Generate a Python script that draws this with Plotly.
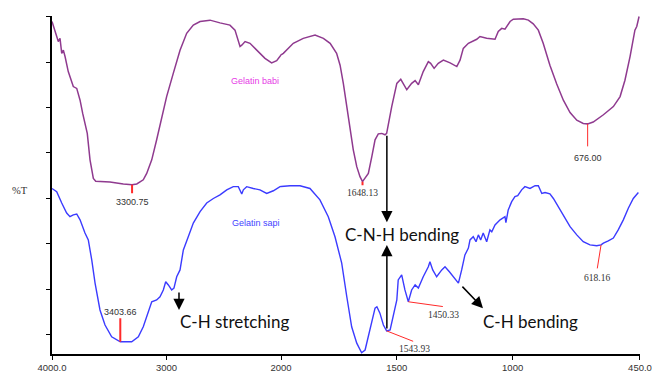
import plotly.graph_objects as go

# ---------------- data ----------------
babi_wn = [4000, 3974, 3945, 3930, 3915, 3901, 3886, 3858, 3814, 3784,
           3755, 3732, 3712, 3692, 3668, 3639, 3618, 3494, 3377, 3300.75,
           3260, 3203, 3173, 3129, 3086, 3042, 2999, 2941, 2882, 2824,
           2766, 2707, 2620, 2533, 2446, 2402, 2373, 2358, 2343, 2314,
           2271, 2198, 2140, 2082, 2038, 1990, 1947, 1904, 1853, 1817,
           1788, 1760, 1745, 1731, 1716, 1702, 1688, 1673, 1659, 1648.13,
           1637, 1623, 1608, 1594, 1580, 1565, 1551, 1544, 1522, 1500,
           1483, 1472, 1457, 1436, 1421, 1407, 1386, 1364, 1354, 1339,
           1321, 1299, 1270, 1241, 1227, 1213, 1191, 1155, 1141, 1112,
           1076, 1062, 1047, 1033, 1011, 997, 954, 932, 911, 889,
           868, 839, 810, 781, 752, 723, 695, 676, 652, 608,
           565, 536, 515, 493, 479, 472, 464, 460, 454]
babi_t = [68.9, 67.0, 64.5, 65.2, 61.9, 62.6, 61.2, 57.9, 54.6, 54.2,
          51.6, 48.7, 46.5, 44.3, 38.5, 34.4, 33.8, 33.6, 33.2, 33.0,
          33.2, 34.1, 35.5, 38.5, 42.9, 48.0, 52.4, 57.5, 62.6, 66.3,
          68.1, 68.9, 69.2, 68.6, 68.1, 67.0, 64.5, 63.4, 63.7, 64.5,
          64.1, 62.3, 60.8, 59.8, 60.3, 61.9, 64.1, 65.2, 65.9, 65.2,
          64.1, 61.9, 59.3, 55.3, 50.2, 45.1, 40.7, 37.0, 34.8, 33.7,
          34.4, 35.5, 39.2, 42.9, 44.2, 44.3, 44.0, 44.3, 50.2, 55.3,
          56.2, 55.3, 53.9, 55.3, 55.9, 55.0, 57.9, 60.1, 59.7, 58.6,
          59.7, 60.4, 59.8, 59.0, 60.4, 63.0, 64.1, 65.0, 65.6, 65.2,
          65.0, 66.7, 67.4, 67.2, 68.9, 69.4, 69.5, 69.2, 68.4, 67.0,
          64.1, 59.3, 55.2, 51.6, 48.9, 47.2, 46.5, 46.4, 46.8, 48.4,
          50.2, 52.4, 56.0, 61.2, 64.8, 67.0, 67.8, 68.9, 70.0]

sapi_wn = [4000, 3959, 3915, 3872, 3843, 3814, 3784, 3755, 3712, 3683,
           3653, 3624, 3581, 3537, 3479, 3403.66, 3304, 3246, 3203, 3159,
           3129, 3086, 3057, 3028, 3007, 2984, 2955, 2935, 2911, 2882,
           2853, 2810, 2766, 2707, 2649, 2591, 2533, 2474, 2417, 2373,
           2343, 2329, 2300, 2242, 2184, 2125, 2067, 2009, 1961, 1918,
           1875, 1832, 1796, 1767, 1738, 1716, 1695, 1673, 1652, 1637,
           1623, 1608, 1594, 1586, 1573, 1558, 1543.93, 1529, 1515, 1500,
           1494, 1479, 1465, 1450.33, 1436, 1421, 1407, 1386, 1364, 1357,
           1345, 1328, 1306, 1292, 1273, 1249, 1234, 1220, 1206, 1191,
           1184, 1170, 1158, 1148, 1138, 1127, 1112, 1098, 1090, 1076,
           1054, 1033, 1029, 1019, 1004, 990, 978, 961, 947, 925,
           903, 889, 874, 860, 839, 824, 803, 781, 752, 723,
           695, 666, 637, 618.16, 608, 587, 565, 544, 522, 500, 479, 457]
sapi_t = [32.2, 31.5, 29.0, 26.8, 26.0, 26.4, 26.6, 25.3, 22.4, 20.9,
          16.5, 11.4, 5.5, 2.2, -0.4, -1.5, -1.5, -0.4, 1.8, 4.8,
          7.3, 7.7, 8.4, 9.9, 11.7, 11.0, 9.9, 10.3, 12.8, 14.3,
          18.7, 21.6, 24.6, 27.1, 29.0, 30.0, 30.8, 31.9, 32.6, 32.6,
          31.0, 31.9, 32.6, 32.2, 31.9, 31.1, 31.7, 32.6, 32.8, 32.8,
          32.2, 29.7, 26.0, 21.6, 15.8, 8.4, 1.8, -1.8, -3.9, -3.3,
          -0.4, 3.3, 5.9, 6.2, 4.8, 2.2, 0.9, 1.1, 4.4, 7.7,
          12.1, 13.2, 9.9, 7.3, 9.9, 11.0, 10.3, 12.8, 15.0, 16.1,
          14.3, 12.8, 14.3, 15.0, 13.9, 12.5, 11.4, 14.3, 17.6, 19.1,
          20.9, 21.6, 20.5, 22.0, 20.9, 22.4, 20.5, 23.1, 22.7, 24.2,
          25.3, 26.0, 24.7, 27.5, 29.3, 30.4, 30.6, 31.9, 32.6, 32.2,
          32.8, 32.8, 31.1, 31.3, 31.0, 30.0, 28.2, 26.0, 23.8, 22.0,
          20.5, 19.8, 19.6, 19.8, 20.2, 20.7, 21.3, 23.1, 25.3, 27.9, 30.0, 31.3]

babi_peaks_wn = [3300.75, 1648.13, 676.00]
babi_peaks_t = [33.0, 33.7, 46.4]
babi_peak_labels = ["3300.75", "1648.13", "676.00"]
sapi_peaks_wn = [3403.66, 1543.93, 1450.33, 618.16]
sapi_peaks_t = [-1.5, 0.9, 7.3, 19.8]
sapi_peak_labels = ["3403.66", "1543.93", "1450.33", "618.16"]

xticks_hi = [4000, 3000]
xticklabels_hi = ["4000.0", "3000"]
xticks_lo = [2000, 1500, 1000, 450]
xticklabels_lo = ["2000", "1500", "1000", "450.0"]
yticks = [0, 10, 20, 30, 40, 50, 60, 70]

# ---------------- styling ----------------
PURPLE = "#8f3a8f"
BLUE = "#3b3bff"
RED = "#ff2a2a"
SPLIT = 0.3895

def xr(wn):
    return "x" if wn > 2000 else "x2"

fig = go.Figure()
for xa in ["x", "x2"]:
    fig.add_trace(go.Scatter(x=babi_wn, y=babi_t, mode="lines", xaxis=xa, yaxis="y",
                             line=dict(color=PURPLE, width=1.5), showlegend=False, hoverinfo="skip"))
    fig.add_trace(go.Scatter(x=sapi_wn, y=sapi_t, mode="lines", xaxis=xa, yaxis="y",
                             line=dict(color=BLUE, width=1.4), showlegend=False, hoverinfo="skip"))

ann = []
# peak markers: (line dx, line dy, line width, text dx, text dy, font family, size)
babi_style = [(0, 10, 2, 0, -17, "Liberation Sans", 9),
              (0, 5, 2, 0, -11, "Liberation Serif", 9.5),
              (0, 24, 1, 0, -34, "Liberation Sans", 9)]
sapi_style = [(0, -25, 2, 0, 30, "Liberation Sans", 9),
              (28, 11, 1, 28, -18, "Liberation Serif", 9.5),
              (36, 5, 1, 35, -13, "Liberation Serif", 9.5),
              (-4, 25, 1, -4, -33, "Liberation Serif", 9.5)]
for wns, ts, labs, sty in [(babi_peaks_wn, babi_peaks_t, babi_peak_labels, babi_style),
                           (sapi_peaks_wn, sapi_peaks_t, sapi_peak_labels, sapi_style)]:
    for wn, t, lab, (lx, ly, lw, tx, ty, ff, fs) in zip(wns, ts, labs, sty):
        ann.append(dict(x=wn, y=t, xref=xr(wn), yref="y", text="", showarrow=True,
                        arrowhead=0, arrowwidth=lw, arrowcolor=RED, ax=lx, ay=ly, standoff=0))
        ann.append(dict(x=wn, y=t, xref=xr(wn), yref="y", text=lab, showarrow=False,
                        xshift=tx, yshift=ty, font=dict(family=ff, size=fs, color="#333333")))

# black arrows
for wn, t, ax, ay in [(1543, 24.8, 0, -88), (1543, 19.8, 0, 85), (2891, 5.5, 0, -19), (1128, 5.9, -22, -23)]:
    ann.append(dict(x=wn, y=t, xref=xr(wn), yref="y", text="", showarrow=True, arrowhead=2,
                    arrowsize=1.5, arrowwidth=1.5, arrowcolor="black", ax=ax, ay=ay, standoff=0))

big = dict(family="Lato", size=17, color="#111111")
ann.append(dict(x=1478, y=22.0, xref="x2", yref="y", text="C-N-H bending", showarrow=False, font=big))
ann.append(dict(x=2900, y=2.9, xref="x", yref="y", text="C-H stretching", showarrow=False,
                xanchor="left", font=big))
ann.append(dict(x=1137, y=2.9, xref="x2", yref="y", text="C-H bending", showarrow=False,
                xanchor="left", font=big))
ann.append(dict(x=2230, y=55.9, xref="x", yref="y", text="Gelatin babi", showarrow=False,
                font=dict(family="Liberation Sans", size=9, color="#e63ce6")))
ann.append(dict(x=2216, y=24.7, xref="x", yref="y", text="Gelatin sapi", showarrow=False,
                font=dict(family="Liberation Sans", size=9, color="#4444ff")))
ann.append(dict(x=-0.0714, y=0.485, xref="paper", yref="paper", text="%T", showarrow=False,
                xanchor="left", font=dict(family="Liberation Serif", size=10.5, color="#333333")))

tickfont = dict(family="Liberation Sans", size=9.5, color="#333333")
axis_common = dict(showgrid=False, zeroline=False, showline=True, linecolor="black", linewidth=2,
                   ticks="outside", ticklen=4, tickcolor="black", tickwidth=1, automargin=False)

fig.update_layout(
    template="none",
    width=652, height=376,
    margin=dict(l=52, r=12, t=16, b=22, autoexpand=False),
    paper_bgcolor="white", plot_bgcolor="white",
    xaxis=dict(domain=[0, SPLIT], range=[4000, 2000], tickvals=xticks_hi, ticktext=xticklabels_hi,
               anchor="y", tickfont=tickfont, **axis_common),
    xaxis2=dict(domain=[SPLIT, 1], range=[2000, 450], tickvals=xticks_lo, ticktext=xticklabels_lo,
                anchor="y", tickfont=tickfont, **axis_common),
    yaxis=dict(range=[-4.18, 70.11], tickvals=yticks, showticklabels=False, anchor="x",
               **axis_common),
    annotations=ann,
)

fig.write_html("out.html")
